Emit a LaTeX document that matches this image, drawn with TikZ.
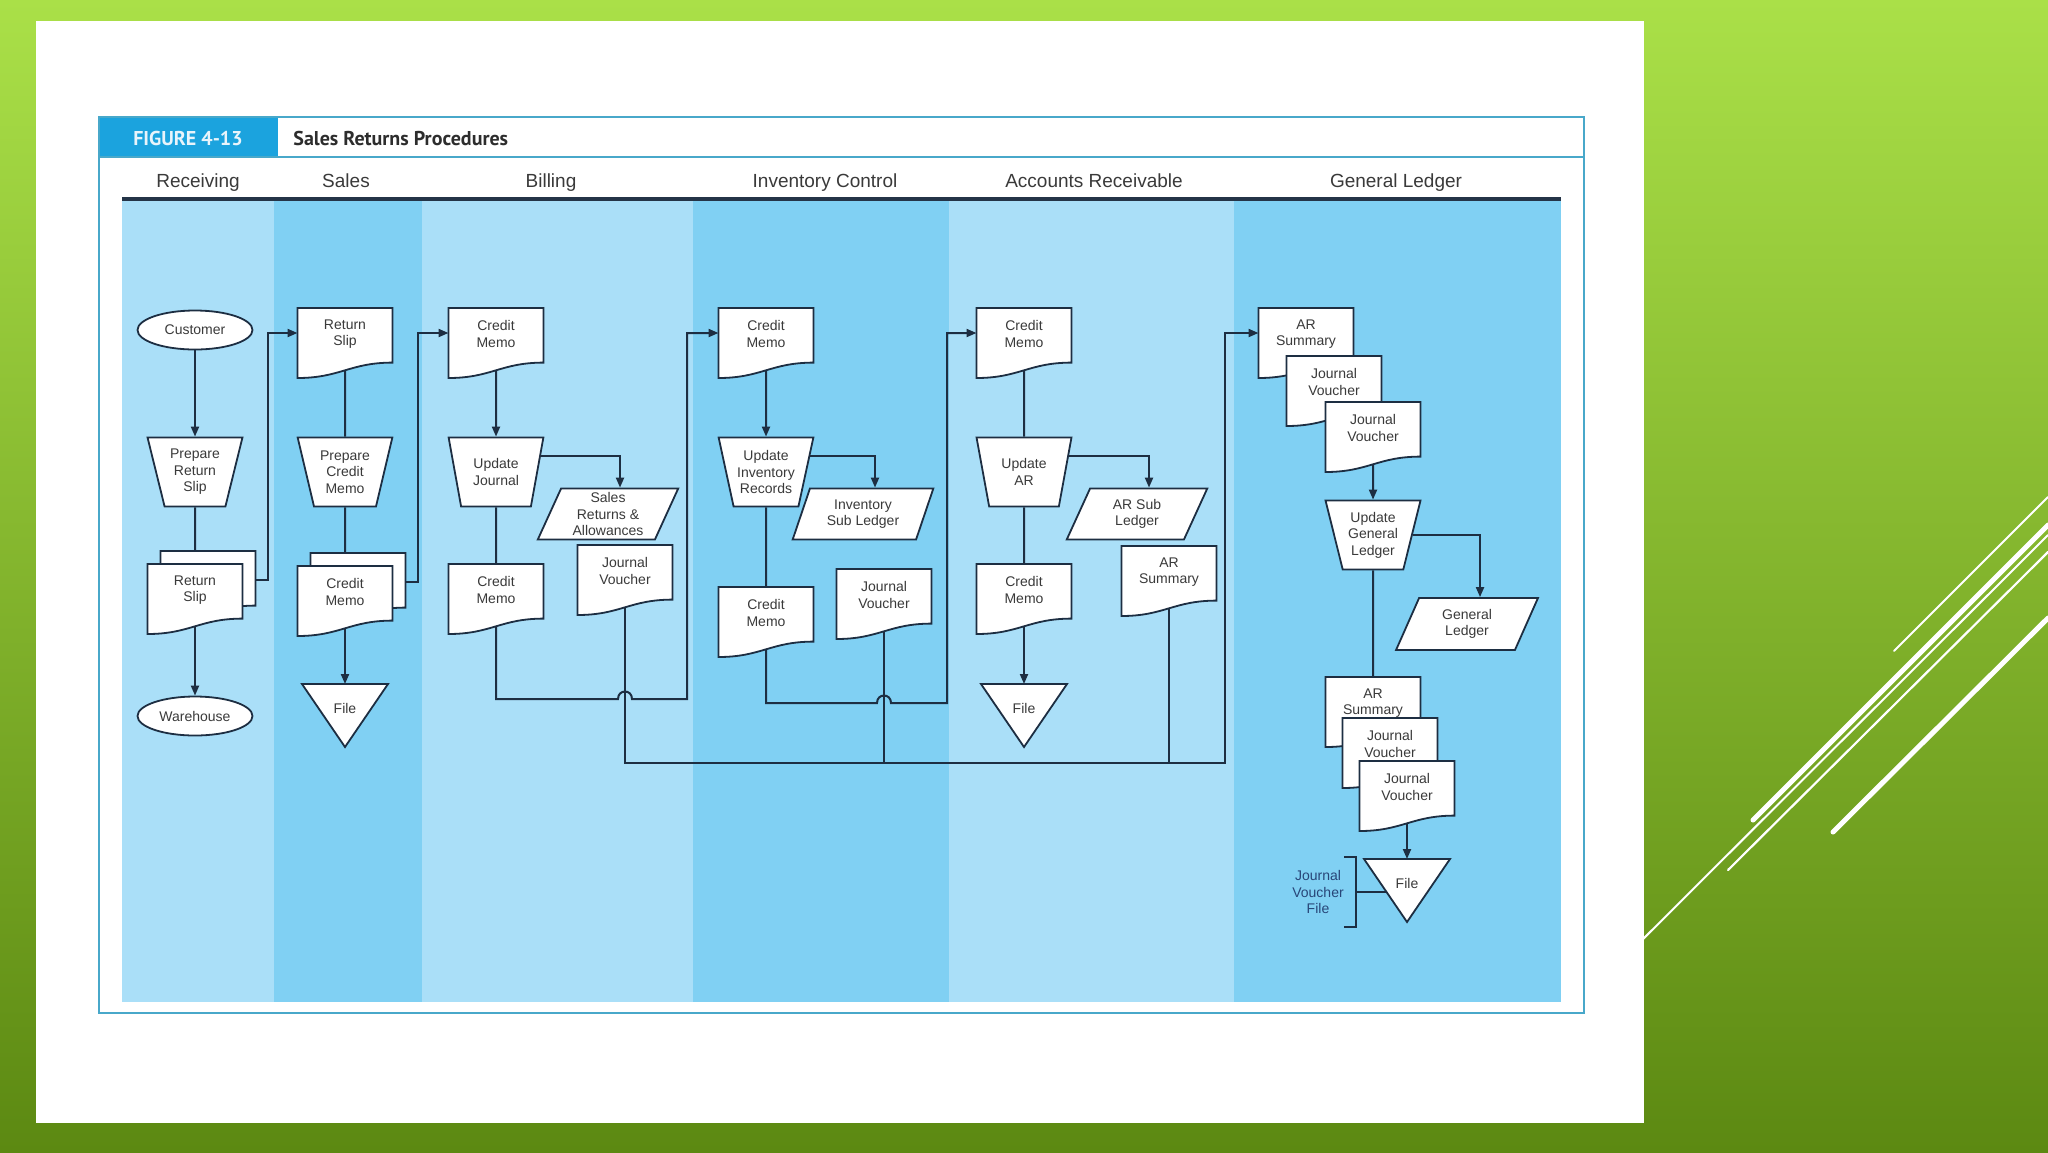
\documentclass[tikz,border=0pt]{standalone}
\usepackage{fontspec}
\setmainfont{Liberation Sans}
\newfontfamily\ptsans{PT Sans}
\usetikzlibrary{shapes.geometric,arrows.meta,calc}
\definecolor{lc}{RGB}{29,46,66}
\definecolor{tc}{RGB}{58,58,58}
\definecolor{laneA}{RGB}{170,223,248}
\definecolor{laneB}{RGB}{128,208,243}
\definecolor{frameC}{RGB}{72,168,202}
\definecolor{figblue}{RGB}{27,163,222}
\definecolor{gtop}{RGB}{170,224,72}
\definecolor{gbot}{RGB}{92,137,18}
\definecolor{navyT}{RGB}{40,70,120}
\definecolor{hdrline}{RGB}{36,52,71}
\pgfdeclarelayer{bg}
\pgfdeclarelayer{lines}
\pgfsetlayers{bg,lines,main}
\newcommand\sm{\fontsize{7}{8.3}\selectfont}
\tikzset{
  ln/.style={draw=lc, line width=1pt},
  arr/.style={ln, -{Triangle[length=5pt,width=4pt]}},
  shp/.style={draw=lc, fill=white, line width=0.9pt},
  txt/.style={font=\sm, text=tc, align=center, inner sep=0pt},
  hdr/.style={font=\fontsize{9.5}{11}\selectfont, text=tc, inner sep=0pt, anchor=base},
  ell/.style={ellipse, shp, txt, minimum width=57.5pt, minimum height=19.5pt},
  trap/.style={trapezium, trapezium angle=73, shape border rotate=180,
    trapezium stretches=true, minimum width=47.5pt, minimum height=34.5pt, shp, txt},
  para/.style={trapezium, trapezium left angle=68, trapezium right angle=112,
    trapezium stretches=true, minimum width=70.5pt, minimum height=25.5pt, shp, txt},
  deco/.style={white, line cap=round}
}
% document symbol: name, x, y (centre), text
\newcommand\Doc[4]{%
  \begin{scope}[shift={(#2,#3)}]
    \filldraw[shp] (-47.5,-35) -- (47.5,-35) -- (47.5,19.6)
      .. controls (4.75,19.6) and (-4.75,35) .. (-47.5,35) -- cycle;
    \node[txt] (#1) at (0,-9) {#4};
    \coordinate (#1-b) at (0,27.3);
    \coordinate (#1-t) at (0,-35);
    \coordinate (#1-w) at (-47.5,-10);
    \coordinate (#1-e) at (47.5,-6);
  \end{scope}}
% file symbol: name, x, y of top edge
\newcommand\FileTri[3]{%
  \begin{scope}[shift={(#2,#3)}]
    \filldraw[shp] (-43,0) -- (43,0) -- (0,63) -- cycle;
    \node[txt] (#1) at (0,24) {File};
    \coordinate (#1-t) at (0,0);
    \coordinate (#1-l) at (-15,33);
  \end{scope}}
\begin{document}
\begin{tikzpicture}[x=0.5pt,y=-0.5pt]
\useasboundingbox (0,0) rectangle (2048,1152);
\begin{pgfonlayer}{bg}
  \shade[top color=gtop, bottom color=gbot] (0,0) rectangle (2048,1152);
  % decorative lines
  \draw[deco, line width=1pt] (1600,982) -- (2048,535);
  \draw[deco, line width=1pt] (1894,651) -- (2048,497);
  \draw[deco, line width=2.5pt] (1753,820) -- (2048,525);
  \draw[deco, line width=1.1pt] (1728,870) -- (2048,552);
  \draw[deco, line width=2.5pt] (1833,832) -- (2048,618);
  % slide panel
  \fill[white] (36,21) rectangle (1644,1123);
  % lanes
  \fill[laneA] (122,201) rectangle (274,1002);
  \fill[laneB] (274,201) rectangle (422,1002);
  \fill[laneA] (422,201) rectangle (693,1002);
  \fill[laneB] (693,201) rectangle (949,1002);
  \fill[laneA] (949,201) rectangle (1234,1002);
  \fill[laneB] (1234,201) rectangle (1561,1002);
  % frame and header
  \fill[figblue] (99,117) rectangle (278,157);
  \draw[frameC, line width=1pt] (99,117) rectangle (1584,1013);
  \draw[frameC, line width=1pt] (99,157) -- (1584,157);
  \draw[hdrline, line width=1.6pt] (122,199) -- (1561,199);
\end{pgfonlayer}

\node[font=\ptsans\bfseries\fontsize{10}{12}\selectfont, text={rgb,255:red,232;green,244;blue,251}, inner sep=0pt, anchor=base] (fig) at (188,145) {FIGURE 4-13};
\node[font=\ptsans\bfseries\fontsize{10}{12}\selectfont, text={rgb,255:red,45;green,45;blue,45}, anchor=base west, inner sep=0pt] (ttl) at (293,145) {Sales Returns Procedures};

\node[hdr] (hR) at (198,187) {Receiving};
\node[hdr] (hS) at (346,187) {Sales};
\node[hdr] (hB) at (551,187) {Billing};
\node[hdr] (hI) at (825,187) {Inventory Control};
\node[hdr] (hA) at (1094,187) {Accounts Receivable};
\node[hdr] (hG) at (1396,187) {General Ledger};

% Receiving
\node[ell] (cust) at (195,330) {Customer};
\node[trap] (prep1) at (195,472) {Prepare\\Return\\Slip};
\Doc{rs1k}{208}{586}{}
\Doc{rs1}{195}{599}{Return\\Slip}
\node[ell] (wh) at (195,716) {Warehouse};

% Sales
\Doc{rs2}{345}{343}{Return\\Slip}
\node[trap] (prep2) at (345,472) {Prepare\\Credit\\Memo};
\Doc{cm2k}{358}{588}{}
\Doc{cm2}{345}{601}{Credit\\Memo}
\FileTri{f1}{345}{684}

% Billing
\Doc{cm3}{496}{343}{Credit\\Memo}
\node[trap] (upj) at (496,472) {Update\\Journal};
\node[para] (sra) at (608,514) {Sales\\Returns \&\\Allowances};
\Doc{jv3}{625}{580}{Journal\\Voucher}
\Doc{cm3b}{496}{599}{Credit\\Memo}

% Inventory control
\Doc{cm4}{766}{343}{Credit\\Memo}
\node[trap] (upi) at (766,472) {Update\\Inventory\\Records};
\node[para] (isl) at (863,514) {Inventory\\Sub Ledger};
\Doc{jv4}{884}{604}{Journal\\Voucher}
\Doc{cm4b}{766}{622}{Credit\\Memo}

% Accounts receivable
\Doc{cm5}{1024}{343}{Credit\\Memo}
\node[trap] (upa) at (1024,472) {Update\\AR};
\node[para] (asl) at (1137,514) {AR Sub\\Ledger};
\Doc{ars5}{1169}{581}{AR\\Summary}
\Doc{cm5b}{1024}{599}{Credit\\Memo}
\FileTri{f2}{1024}{684}

% General ledger
\Doc{ars6}{1306}{343}{AR\\Summary}
\Doc{jv6a}{1334}{391}{Journal\\Voucher}
\Doc{jv6b}{1373}{437}{Journal\\Voucher}
\node[trap] (upg) at (1373,535) {Update\\General\\Ledger};
\node[para, minimum width=71pt, minimum height=26pt] (gl) at (1467,624) {General\\Ledger};
\Doc{ars6b}{1373}{712}{AR\\Summary}
\Doc{jv6c}{1390}{753}{Journal\\Voucher}
\Doc{jv6d}{1407}{796}{Journal\\Voucher}
\FileTri{f3}{1407}{859}
\node[txt, text=navyT] (jvf) at (1318,892) {Journal\\Voucher\\File};

\coordinate (yb1) at (0,699);
\coordinate (xb1) at (687,0);
\coordinate (yb3) at (0,703);
\coordinate (xb3) at (947,0);
\coordinate (yb2) at (0,763);
\coordinate (xb2) at (1225,0);
\coordinate (brk) at (1356,892);

\begin{pgfonlayer}{lines}
  % Receiving
  \draw[arr] (cust) -- (prep1);
  \draw[ln] (prep1.south) -- (rs1-t);
  \draw[arr] (rs1-b) -- (wh);
  \draw[arr] (rs1k-e) -- ++(12,0) |- (rs2-w);
  % Sales
  \draw[ln] (rs2-b) -- (prep2.north);
  \draw[ln] (prep2.south) -- (cm2-t);
  \draw[arr] (cm2-b) -- (f1-t);
  \draw[arr] (cm2k-e) -- ++(12,0) |- (cm3-w);
  % Billing
  \draw[arr] (cm3-b) -- (upj.north);
  \draw[arr] ([yshift=8pt]upj.east) -| ([xshift=6pt]sra.north);
  \draw[ln] (upj.south) -- (cm3b-t);
  \draw[arr] (cm3b-b) -- (cm3b-b |- yb1) -- ($(jv3-b |- yb1)+(-7,0)$)
     .. controls ($(jv3-b |- yb1)+(-7,-10)$) and ($(jv3-b |- yb1)+(7,-10)$) .. ($(jv3-b |- yb1)+(7,0)$)
     -- (xb1 |- yb1) |- (cm4-w);
  \draw[arr] (jv3-b) -- (jv3-b |- yb2) -- (xb2 |- yb2) |- (ars6-w);
  % Inventory control
  \draw[arr] (cm4-b) -- (upi.north);
  \draw[arr] ([yshift=8pt]upi.east) -| ([xshift=6pt]isl.north);
  \draw[ln] (upi.south) -- (cm4b-t);
  \draw[arr] (cm4b-b) -- (cm4b-b |- yb3) -- ($(jv4-b |- yb3)+(-7,0)$)
     .. controls ($(jv4-b |- yb3)+(-7,-10)$) and ($(jv4-b |- yb3)+(7,-10)$) .. ($(jv4-b |- yb3)+(7,0)$)
     -- (xb3 |- yb3) |- (cm5-w);
  \draw[ln] (jv4-b) -- (jv4-b |- yb2);
  % Accounts receivable
  \draw[ln] (cm5-b) -- (upa.north);
  \draw[arr] ([yshift=8pt]upa.east) -| ([xshift=6pt]asl.north);
  \draw[ln] (upa.south) -- (cm5b-t);
  \draw[arr] (cm5b-b) -- (f2-t);
  \draw[ln] (ars5-b) -- (ars5-b |- yb2);
  % General ledger
  \draw[arr] (jv6b-b) -- (upg.north);
  \draw[arr] (upg.east) -| ([xshift=6.5pt]gl.north);
  \draw[ln] (upg.south) -- (ars6b-t);
  \draw[arr] (jv6d-b) -- (f3-t);
  \draw[ln] ($(brk)+(-12,-35)$) -- ($(brk)+(0,-35)$) -- ($(brk)+(0,35)$) -- ($(brk)+(-12,35)$);
  \draw[ln] (brk) -- (f3-l);
\end{pgfonlayer}
\end{tikzpicture}
\end{document}
